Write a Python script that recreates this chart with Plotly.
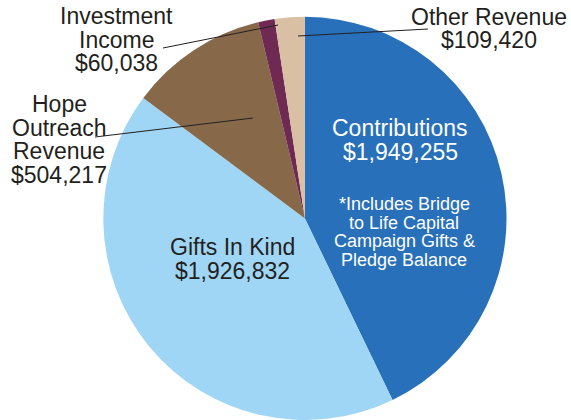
"""Revenue breakdown pie chart."""

import plotly.graph_objects as go

# data
categories = [
    "Contributions",
    "Gifts In Kind",
    "Hope Outreach Revenue",
    "Investment Income",
    "Other Revenue",
]
amounts = [1949255, 1926832, 504217, 60038, 109420]
note_lines = [
    "*Includes Bridge",
    "to Life Capital",
    "Campaign Gifts &",
    "Pledge Balance",
]

W, H = 571, 420
colors = ["#2870ba", "#a0d6f5", "#87694a", "#6e2a52", "#d9bfa3"]
DARK = "#231f20"
FONT = "Liberation Sans, Arial, sans-serif"


def money(v):
    return f"${v:,.0f}"


def px(x, y):
    return x / W, 1 - y / H


fig = go.Figure(
    go.Pie(
        labels=categories,
        values=amounts,
        sort=False,
        direction="clockwise",
        rotation=0,
        marker={"colors": colors, "line": {"width": 0}},
        textinfo="none",
        hoverinfo="label+value+percent",
        domain={"x": [0.18, 0.888], "y": [0.0, 0.96]},
        showlegend=False,
    )
)

annotations = []


def add_lines(lines, cx, first_y, step, size, color):
    for i, line in enumerate(lines):
        x, y = px(cx, first_y + i * step)
        annotations.append(
            {
                "text": line,
                "x": x,
                "y": y,
                "xref": "paper",
                "yref": "paper",
                "xanchor": "center",
                "yanchor": "middle",
                "showarrow": False,
                "font": {"size": size, "color": color, "family": FONT},
            }
        )


# slice labels, one annotation per line (tight line spacing)
add_lines(["Contributions", money(amounts[0])], 400, 128, 23.5, 23, "white")
add_lines(note_lines, 404, 204, 18.5, 18, "white")
add_lines(["Gifts In Kind", money(amounts[1])], 232, 247, 23.5, 23, DARK)
add_lines(["Hope", "Outreach", "Revenue", money(amounts[2])], 59, 104, 23.5, 23, DARK)
add_lines(["Investment", "Income", money(amounts[3])], 116, 16, 23.5, 23, DARK)
add_lines(["Other Revenue", money(amounts[4])], 489, 17, 23.5, 23, DARK)

# leader lines
leaders = [
    ((163, 48), (278, 25)),
    ((95, 137), (253, 118)),
    ((428, 29), (298, 36)),
]
shapes = []
for (x0, y0), (x1, y1) in leaders:
    a0, b0 = px(x0, y0)
    a1, b1 = px(x1, y1)
    shapes.append(
        {
            "type": "line",
            "xref": "paper",
            "yref": "paper",
            "x0": a0,
            "y0": b0,
            "x1": a1,
            "y1": b1,
            "line": {"color": DARK, "width": 1},
        }
    )

fig.update_layout(
    width=W,
    height=H,
    margin={"l": 0, "r": 0, "t": 0, "b": 0},
    paper_bgcolor="white",
    plot_bgcolor="white",
    annotations=annotations,
    shapes=shapes,
)

# drop the default page margin so the figure fills the window
fig.write_html(
    "out.html",
    config={"displayModeBar": False},
    post_script="document.body.style.margin = '0';",
)
